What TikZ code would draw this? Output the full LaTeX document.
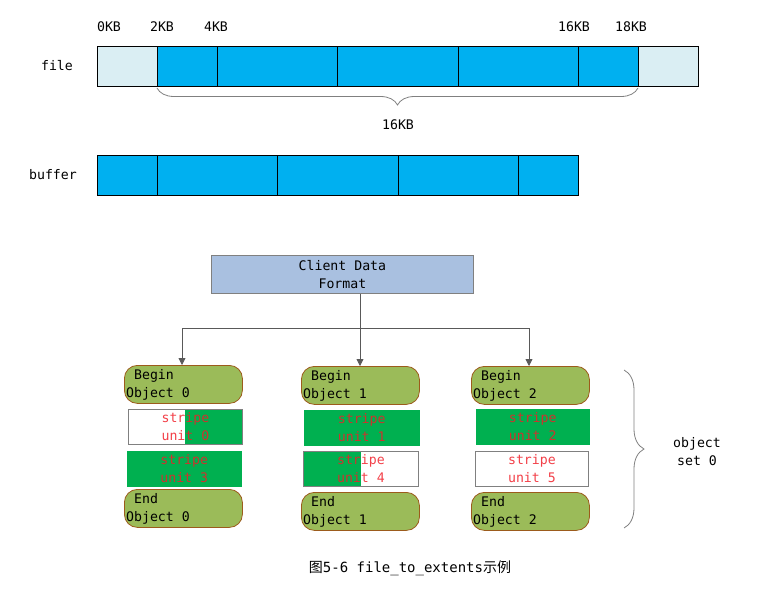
\documentclass[tikz,border=0pt]{standalone}
\usepackage{fontspec}
\setmainfont{DejaVu Sans Mono}
\setmonofont{DejaVu Sans Mono}
\newfontfamily\cjk{Noto Sans CJK SC}
\usetikzlibrary{arrows.meta,decorations.pathreplacing}
\definecolor{lightcell}{HTML}{DAEEF3}
\definecolor{bluecell}{HTML}{00B0F0}
\definecolor{clientfill}{HTML}{A9C0E0}
\definecolor{objfill}{HTML}{9BBB59}
\definecolor{objedge}{HTML}{9C5B1C}
\definecolor{stripegreen}{HTML}{00B050}
\definecolor{stripetext}{HTML}{F01E28}
\definecolor{arrowgray}{HTML}{595959}
\tikzset{
  txt/.style={font=\fontsize{13.2}{18}\selectfont, inner sep=0pt},
  cell/.style={draw=black, line width=0.8pt, fill=bluecell, anchor=north west, inner sep=0pt, minimum height=40pt},
  lcell/.style={cell, fill=lightcell},
  client/.style={draw=gray, line width=0.8pt, fill=clientfill, anchor=north west, inner sep=0pt, minimum width=262pt, minimum height=38pt, align=center, font=\fontsize{13.2}{18}\selectfont},
  objbox/.style={draw=objedge, line width=0.8pt, fill=objfill, rounded corners=13pt, anchor=north west, inner sep=0pt, minimum width=118pt, minimum height=38pt},
  objtxt/.style={font=\fontsize{13.2}{18}\selectfont, align=left, anchor=west, inner sep=0pt},
  stripebox/.style={anchor=north west, inner sep=0pt, minimum width=114pt, minimum height=35pt, align=center, font=\fontsize{13.2}{18}\selectfont, text=stripetext, text opacity=0.85},
  sfull/.style={stripebox, fill=stripegreen, draw=stripegreen},
  swhite/.style={stripebox, fill=white, draw=gray, line width=0.8pt},
  sright/.style={stripebox, draw=gray, line width=0.8pt, path picture={\fill[stripegreen] (path picture bounding box.south) rectangle (path picture bounding box.north east);}},
  sleft/.style={stripebox, draw=gray, line width=0.8pt, path picture={\fill[stripegreen] (path picture bounding box.south west) rectangle (path picture bounding box.north);}},
  conn/.style={draw=arrowgray, line width=0.8pt},
  arr/.style={conn, -{Triangle[width=7pt,length=7pt]}},
  bracestyle/.style={draw=gray, line width=0.8pt, decorate}
}
\begin{document}
\begin{tikzpicture}[x=1pt,y=-1pt]
\useasboundingbox (0,0) rectangle (757,599);
% file row
\node[txt] (filelbl) at (57,66) {file};
\node[lcell, minimum width=60pt] (f0) at (97,46) {};
\node[cell, minimum width=60pt] (f1) at (157,46) {};
\node[cell, minimum width=120pt] (f2) at (217,46) {};
\node[cell, minimum width=121pt] (f3) at (337,46) {};
\node[cell, minimum width=120pt] (f4) at (458,46) {};
\node[cell, minimum width=60pt] (f5) at (578,46) {};
\node[lcell, minimum width=60pt] (f6) at (638,46) {};
\node[txt] (k0) at (109,27) {0KB};
\node[txt] (k2) at (162,27) {2KB};
\node[txt] (k4) at (216,27) {4KB};
\node[txt] (k16) at (574,27) {16KB};
\node[txt] (k18) at (631,27) {18KB};
\coordinate (bra) at (638,88);
\coordinate (brb) at (157,88);
\draw[bracestyle, decoration={brace, amplitude=17pt, aspect=0.5}] (bra) -- (brb);
\node[txt] (k16b) at (398,125) {16KB};
% buffer row
\node[txt] (buflbl) at (53,175) {buffer};
\node[cell, minimum width=60pt] (b0) at (97,155) {};
\node[cell, minimum width=120pt] (b1) at (157,155) {};
\node[cell, minimum width=121pt] (b2) at (277,155) {};
\node[cell, minimum width=120pt] (b3) at (398,155) {};
\node[cell, minimum width=60pt] (b4) at (518,155) {};
% client
\node[client] (client) at (211,255) {Client Data\\Format};
\coordinate (split) at (360,328);
\coordinate (jl) at (182,328);
\coordinate (jr) at (529,328);
% objects
\node[objbox] (beg0) at (124,365) {};
\node[objbox] (beg1) at (301,366) {};
\node[objbox] (beg2) at (471,366) {};
\node[objtxt] at ([xshift=2pt]beg0.west) {\ Begin\\Object 0};
\node[objtxt] at ([xshift=2pt]beg1.west) {\ Begin\\Object 1};
\node[objtxt] at ([xshift=2pt]beg2.west) {\ Begin\\Object 2};
\draw[conn] (split |- client.south) -- (split);
\draw[conn] (jl) -- (jr);
\draw[arr] (jl) -- (jl |- beg0.north);
\draw[arr] (split) -- (split |- beg1.north);
\draw[arr] (jr) -- (jr |- beg2.north);
% stripe units
\node[sright] (u0) at (128,409) {stripe\\unit 0};
\node[sfull] (u3) at (127,451) {stripe\\unit 3};
\node[sfull, minimum width=115pt] (u1) at (304,410) {stripe\\unit 1};
\node[sleft, minimum width=115pt] (u4) at (303,451) {stripe\\unit 4};
\node[sfull, minimum width=113pt] (u2) at (476,409) {stripe\\unit 2};
\node[swhite, minimum width=113pt] (u5) at (475,451) {stripe\\unit 5};
% end objects
\node[objbox] (end0) at (124,489) {};
\node[objbox] (end1) at (301,492) {};
\node[objbox] (end2) at (471,492) {};
\node[objtxt] at ([xshift=2pt]end0.west) {\ End\\Object 0};
\node[objtxt] at ([xshift=2pt]end1.west) {\ End\\Object 1};
\node[objtxt] at ([xshift=2pt]end2.west) {\ End\\Object 2};
% object set brace
\coordinate (rba) at (624,370);
\coordinate (rbb) at (624,528);
\draw[bracestyle, decoration={brace, amplitude=20pt, aspect=0.5}] (rba) -- (rbb);
\node[txt, align=center] (oset) at (697,452) {object\\set 0};
% caption
\node[font=\fontsize{14}{18}\selectfont, inner sep=0pt] (cap) at (410,568) {{\cjk 图}5-6 file\_to\_extents{\cjk 示例}};
\end{tikzpicture}
\end{document}
